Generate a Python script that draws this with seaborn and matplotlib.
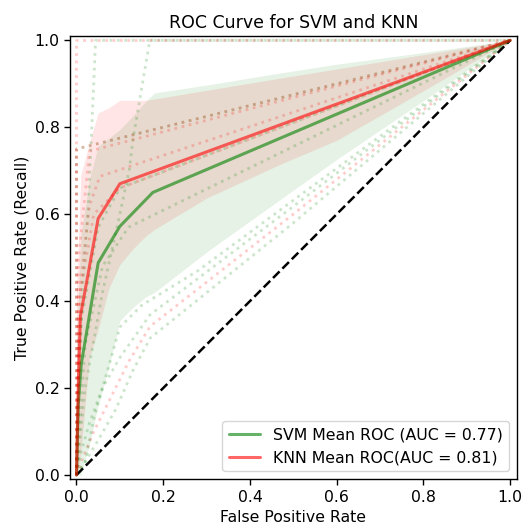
import numpy as np
import pandas as pd
import matplotlib
matplotlib.use("Agg")
import matplotlib.pyplot as plt
import seaborn as sns

# ---------------- data ----------------
# individual fold ROC curves (dotted)
svm_fold_fpr = [
    [0, 0.005, 0.015, 0.027, 0.034, 0.044, 1],
    [0, 0.02, 0.06, 0.10, 0.122, 0.13, 0.169, 1],
    [0, 0, 1],
    [0, 0.01, 0.05, 0.10, 1],
    [0, 0.02, 0.06, 0.12, 1],
    [0, 0.02, 0.04, 0.06, 0.10, 0.15, 0.28, 1],
    [0, 0.01, 0.03, 0.06, 0.10, 0.17, 0.50, 1],
    [0, 0.02, 0.05, 0.09, 0.13, 0.17, 0.22, 0.50, 1],
]
svm_fold_tpr = [
    [0, 0.20, 0.45, 0.615, 0.77, 1, 1],
    [0, 0.20, 0.42, 0.60, 0.703, 0.77, 1, 1],
    [0, 0.75, 1],
    [0, 0.35, 0.57, 0.66, 1],
    [0, 0.30, 0.48, 0.57, 1],
    [0, 0.03, 0.13, 0.20, 0.34, 0.39, 0.47, 1],
    [0, 0.05, 0.12, 0.20, 0.27, 0.369, 0.618, 1],
    [0, 0.03, 0.08, 0.15, 0.24, 0.315, 0.355, 0.58, 1],
]
knn_fold_fpr = [
    [0, 0, 1],
    [0, 0, 1],
    [0, 0.005, 0.03, 1],
    [0, 0.01, 0.03, 0.054, 1],
    [0, 0.005, 0.04, 0.10, 1],
    [0, 0.015, 0.04, 0.08, 0.12, 0.17, 0.50, 1],
]
knn_fold_tpr = [
    [0, 1, 1],
    [0, 0.75, 1],
    [0, 0.50, 0.745, 1],
    [0, 0.45, 0.62, 0.687, 1],
    [0, 0.40, 0.60, 0.66, 1],
    [0, 0.04, 0.10, 0.18, 0.26, 0.342, 0.60, 1],
]

# mean ROC curves
svm_mean_fpr = [0, 0.004, 0.011, 0.05, 0.10, 0.176, 1]
svm_mean_tpr = [0, 0.16, 0.255, 0.488, 0.572, 0.65, 1]
knn_mean_fpr = [0, 0.004, 0.009, 0.05, 0.10, 1]
knn_mean_tpr = [0, 0.20, 0.365, 0.59, 0.67, 1]

# +/- 1 std bands
band_fpr  = [0, 0.01, 0.03, 0.05, 0.075, 0.10, 0.13, 0.16, 0.18, 0.30, 0.47, 0.60, 0.80, 1.0]
svm_upper = [0.30, 0.55, 0.68, 0.757, 0.775, 0.795, 0.826, 0.86, 0.879, 0.897, 0.925, 0.945, 0.972, 1.0]
svm_lower = [0.00, 0.00, 0.07, 0.16, 0.25, 0.355, 0.385, 0.41, 0.42, 0.513, 0.634, 0.726, 0.861, 1.0]
knn_upper = [0.42, 0.69, 0.765, 0.833, 0.845, 0.862, 0.862, 0.862, 0.865, 0.885, 0.913, 0.934, 0.967, 1.0]
knn_lower = [0.00, 0.05, 0.27, 0.335, 0.43, 0.484, 0.52, 0.55, 0.565, 0.637, 0.715, 0.77, 0.884, 1.0]

chance = [0, 1]
ticks = [0.0, 0.2, 0.4, 0.6, 0.8, 1.0]
svm_label = "SVM Mean ROC (AUC = 0.77)"
knn_label = "KNN Mean ROC(AUC = 0.81)"

# ---------------- build long table for folds ----------------
rows = []
for name, fprs, tprs in (("SVM", svm_fold_fpr, svm_fold_tpr), ("KNN", knn_fold_fpr, knn_fold_tpr)):
    for i, (fx, fy) in enumerate(zip(fprs, tprs)):
        for j, (a, b) in enumerate(zip(fx, fy)):
            rows.append({"model": name, "fold": f"{name}{i}", "order": j, "fpr": a, "tpr": b})
folds = pd.DataFrame(rows)

# ---------------- style ----------------
sns.set_style("ticks")
plt.rcParams.update({
    "font.family": ["DejaVu Sans"],
    "axes.edgecolor": "black",
    "axes.linewidth": 1.0,
    "xtick.color": "black",
    "ytick.color": "black",
    "text.color": "black",
    "axes.labelcolor": "black",
    "xtick.major.size": 4,
    "ytick.major.size": 4,
    "xtick.major.width": 1.0,
    "ytick.major.width": 1.0,
})

fig = plt.figure(figsize=(5.25, 5.26), dpi=100)
ax = fig.add_axes([0.1333, 0.0888, 0.8509, 0.8428])

palette = {"SVM": "g", "KNN": "r"}
sns.lineplot(data=folds, x="fpr", y="tpr", hue="model", units="fold", estimator=None,
             sort=False, palette=palette, linestyle=":", lw=2.0, alpha=0.2,
             legend=False, ax=ax)

ax.fill_between(band_fpr, svm_lower, svm_upper, color="g", alpha=0.1, lw=0)
ax.fill_between(band_fpr, knn_lower, knn_upper, color="r", alpha=0.1, lw=0)

sns.lineplot(x=chance, y=chance, color="k", linestyle="--", lw=1.8, ax=ax)

sns.lineplot(x=svm_mean_fpr, y=svm_mean_tpr, color="g", lw=2.2, alpha=0.6,
             estimator=None, sort=False, label=svm_label, ax=ax)
sns.lineplot(x=knn_mean_fpr, y=knn_mean_tpr, color="r", lw=2.2, alpha=0.6,
             estimator=None, sort=False, label=knn_label, ax=ax)

ax.set_xlim(-0.015, 1.015)
ax.set_ylim(-0.01, 1.01)
ax.set_xticks(ticks)
ax.set_yticks(ticks)
ax.tick_params(labelsize=11.3)
ax.set_xlabel("False Positive Rate", fontsize=11.3)
ax.set_ylabel("True Positive Rate (Recall)", fontsize=11.3)
ax.set_title("ROC Curve for SVM and KNN", fontsize=12.5)
ax.legend(loc="lower right", fontsize=11.3)

fig.savefig("out.png", dpi=100)
